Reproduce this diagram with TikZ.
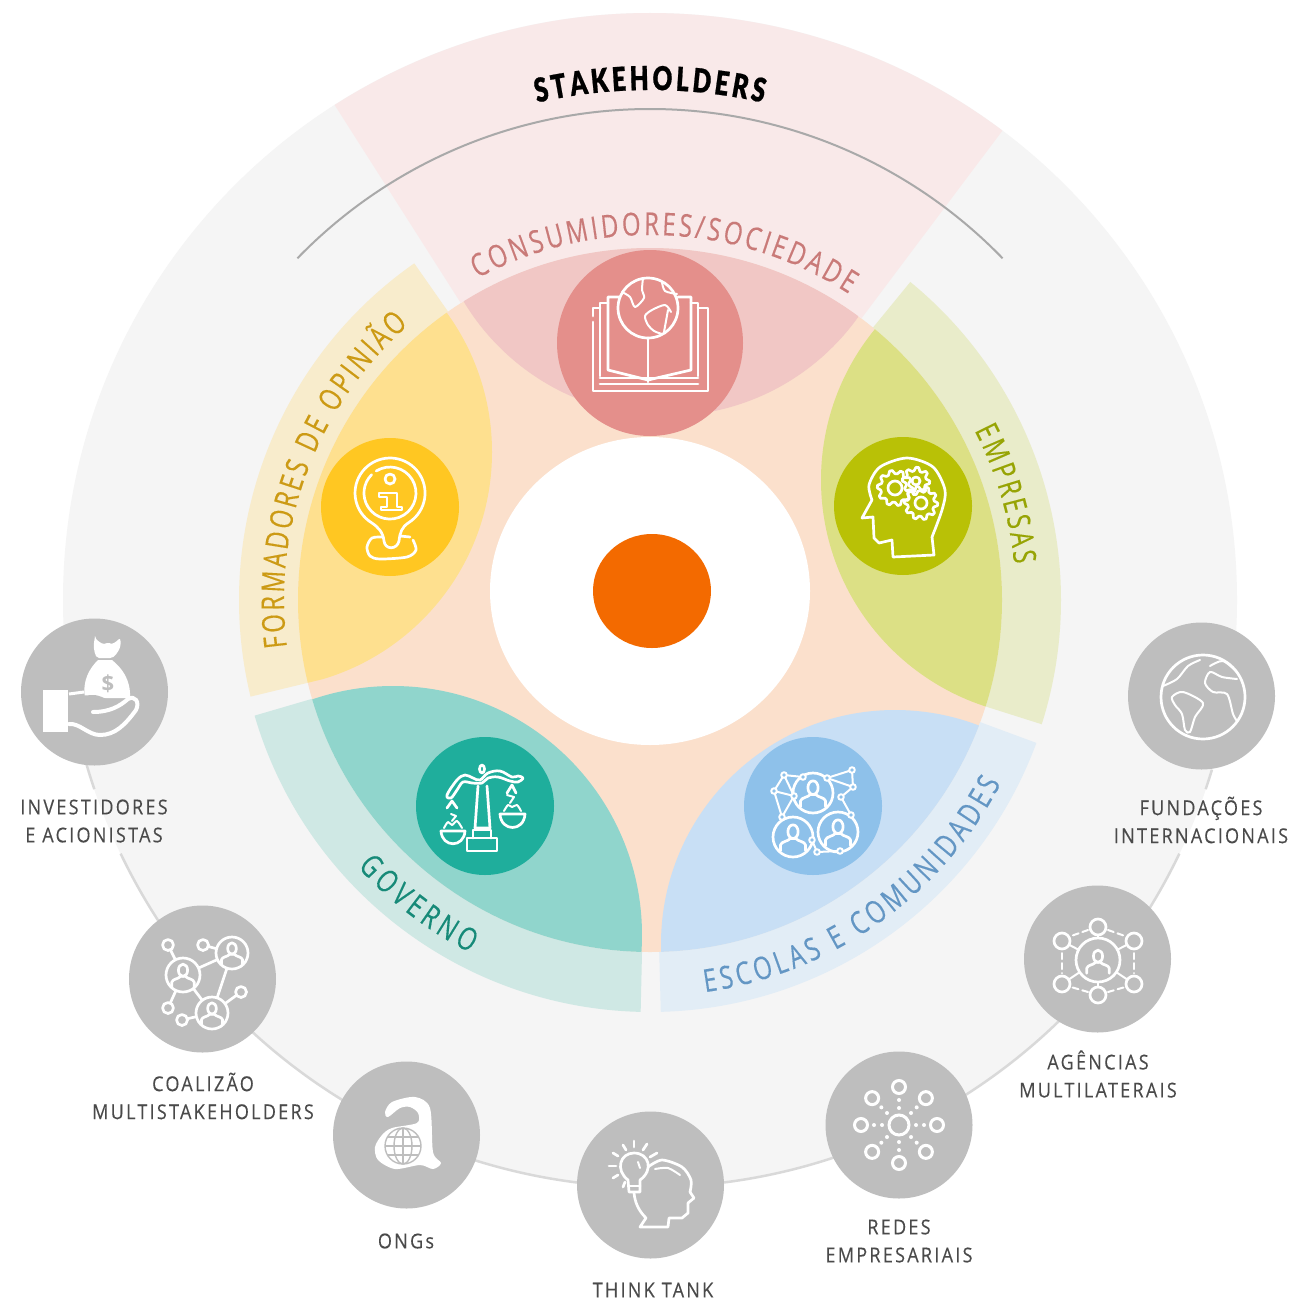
\documentclass[tikz,border=0pt]{standalone}
\usepackage{fontspec}
\usetikzlibrary{decorations.text,calc,shapes.geometric}
\setmainfont{Open Sans}
\newfontfamily\labfont[LetterSpace=11,FakeStretch=.88,FakeBold=.25]{Open Sans}
\newfontfamily\arcfont[FakeStretch=.76,FakeBold=.3]{Open Sans}
\newfontfamily\stkfont[FakeStretch=.74,FakeBold=.6]{Lato Black}
\definecolor{ringbg}{HTML}{F5F5F5}
\definecolor{ringln}{HTML}{D9D9D9}
\definecolor{peach}{HTML}{FBE0CC}
\definecolor{pinkL}{HTML}{F9E9E9}\definecolor{pinkM}{HTML}{F1C7C5}\definecolor{pinkD}{HTML}{E48F8B}\definecolor{pinkT}{HTML}{C97A78}
\definecolor{yelL}{HTML}{F8ECCC}\definecolor{yelM}{HTML}{FEE08F}\definecolor{yelD}{HTML}{FFC722}\definecolor{yelT}{HTML}{CC9A14}
\definecolor{grnL}{HTML}{E9ECCA}\definecolor{grnM}{HTML}{DCE085}\definecolor{grnD}{HTML}{B9C106}\definecolor{grnT}{HTML}{97A404}
\definecolor{teaL}{HTML}{CFE8E4}\definecolor{teaM}{HTML}{90D5CC}\definecolor{teaD}{HTML}{1FAE9C}\definecolor{teaT}{HTML}{168A78}
\definecolor{bluL}{HTML}{E2EDF6}\definecolor{bluM}{HTML}{C8DFF5}\definecolor{bluD}{HTML}{8EC1EA}\definecolor{bluT}{HTML}{6396C4}
\definecolor{grayD}{HTML}{BEBEBE}\definecolor{labT}{HTML}{4A4A4A}
\definecolor{hubO}{HTML}{F36A00}\definecolor{topln}{HTML}{A9A9A9}
% annular sector: #1 colour, #2 #3 angles, #4 inner, #5 outer radius
\newcommand\annsec[5]{\fill[#1] ([shift={(C)}]#2:#4pt) arc[start angle=#2,end angle=#3,radius=#4pt]
  -- ([shift={(C)}]#3:#5pt) arc[start angle=#3,end angle=#2,radius=#5pt] -- cycle;}
% lens: #1 colour, #2 #3 angles, #4 petal cx, #5 petal cy, #6 petal radius
\newcommand\lens[6]{\begin{scope}
  \clip (C) circle[radius=352pt];
  \clip (C) -- ([shift={(C)}]#2:800pt) arc[start angle=#2,end angle=#3,radius=800pt] -- cycle;
  \fill[#1] (#4,-#5) circle[radius=#6pt];\end{scope}}
\newcommand\arctext[6]{\path[decorate,decoration={text along path,text align={fit to path},
   text={|#4\fontsize{31.5}{32}\selectfont\color{#5}|#6}}]
   ([shift={(C)}]#2:#1pt) arc[start angle=#2,end angle=#3,radius=#1pt];}
\newcommand\garc[2]{\draw[ringln,line width=2.5pt] ([shift={(C)}]#1:587pt) arc[start angle=#1,end angle=#2,radius=587pt];}
\newcommand\person[3]{%
  \draw[ic] (#1,{#2-.28*#3}) ellipse[x radius={.27*#3 pt},y radius={.36*#3 pt}];
  \draw[ic] ({#1-.66*#3},{#2+.72*#3}) -- ({#1-.66*#3},{#2+.42*#3}) .. controls ({#1-.6*#3},{#2+.22*#3}) and ({#1-.3*#3},{#2+.25*#3}) .. ({#1-.14*#3},{#2+.08*#3})
     -- ({#1+.14*#3},{#2+.08*#3}) .. controls ({#1+.3*#3},{#2+.25*#3}) and ({#1+.6*#3},{#2+.22*#3}) .. ({#1+.66*#3},{#2+.42*#3}) -- ({#1+.66*#3},{#2+.72*#3});}
\newcommand\gearicon[5]{\begin{scope}[shift={(#1,#2)}]
  \pgfmathtruncatemacro\nsamp{#4*4+1}
  \draw[ic] plot[domain=0:360,samples=\nsamp] ({(#3+1.7*(sin(#4*\x+45)>0?1:-1))*cos(\x)},{(#3+1.7*(sin(#4*\x+45)>0?1:-1))*sin(\x)}) -- cycle;
  \draw[ic] (0,0) circle[radius=#5pt];\end{scope}}
\tikzset{
  disc/.style={circle,inner sep=0pt,draw=none},
  big/.style={disc,minimum size=186pt},
  mid/.style={disc,minimum size=138pt},
  gry/.style={disc,minimum size=147pt,fill=grayD},
  ic/.style={draw=white,line width=2.7pt,line cap=round,line join=round},
  ict/.style={draw=white,line width=2pt,line cap=round,line join=round},
  lab/.style={align=center,text=labT,font=\labfont\fontsize{20.5}{28}\selectfont,inner sep=0pt},
}
\begin{document}
\begin{tikzpicture}[x=1pt,y=1pt]
\useasboundingbox (0,-1300) rectangle (1291,0);
\fill[white] (0,-1300) rectangle (1291,0);
\coordinate (C) at (650,-600);
% outer ring
\fill[ringbg] (C) circle[radius=587pt];
\garc{196.3}{198.8}\garc{205.6}{334.4}\garc{341.2}{343.2}
% peach disc
\fill[peach] (C) circle[radius=352pt];
% sectors
\annsec{pinkL}{53.1}{122.5}{352}{587}
\annsec{yelL}{125}{193.6}{352}{411}
\annsec{teaL}{196.3}{268.7}{352}{412}
\annsec{bluL}{271.5}{339.7}{352}{412}
\annsec{grnL}{342.4}{410.7}{352}{411}
\lens{pinkM}{53.1}{122.5}{666}{180}{236}
\lens{yelM}{125}{193.6}{255}{452}{237}
\lens{teaM}{196.3}{268.7}{393}{935}{249}
\lens{bluM}{271.5}{339.7}{895}{944}{234}
\lens{grnM}{342.4}{410.7}{1059}{480}{238}
% top arc
\draw[topln,line width=2pt] ([shift={(C)}]135.9:491pt) arc[start angle=135.9,end angle=44.1,radius=491pt];
% curved labels
\arctext{365}{118.2}{57}{\arcfont}{pinkT}{CONSUMIDORES/SOCIEDADE}
\arctext{366}{187.4}{131.3}{\arcfont}{yelT}{FORMADORES DE OPINIÃO}
\arctext{366}{27.6}{5.6}{\arcfont}{grnT}{EMPRESAS}
\arctext{396}{222.4}{243}{\arcfont}{teaT}{GOVERNO}
\arctext{396}{278}{332.4}{\arcfont}{bluT}{ESCOLAS E COMUNIDADES}
\path[decorate,decoration={text along path,text align={fit to path},text={|\stkfont\fontsize{33}{33}\selectfont\color{black}|STAKEHOLDERS}}]
  ([shift={(C)}]102.8:510pt) arc[start angle=102.8,end angle=77.2,radius=510pt];
% hub
\fill[white] (650,-591) ellipse[x radius=160pt,y radius=154pt];
\node[ellipse,inner sep=0pt,fill=hubO,minimum width=118pt,minimum height=114pt] (hub) at (652,-591) {};
% coloured discs
\node[big,fill=pinkD] (dPink) at (650,-343) {};
\node[mid,fill=yelD] (dYel) at (390,-507) {};
\node[mid,fill=grnD] (dGrn) at (903,-506) {};
\node[mid,fill=teaD] (dTea) at (485,-806) {};
\node[mid,fill=bluD] (dBlu) at (813,-806) {};
% grey discs
\node[gry] (g1) at (94.5,-692) {};
\node[gry] (g2) at (202.5,-979) {};
\node[gry] (g3) at (406.5,-1135) {};
\node[gry] (g4) at (650.5,-1185) {};
\node[gry] (g5) at (899,-1125) {};
\node[gry] (g6) at (1097.5,-959) {};
\node[gry] (g7) at (1201.5,-696) {};
% labels
\node[lab] (l1) at (94,-821) {INVESTIDORES\\E ACIONISTAS};
\node[lab] (l2) at (203,-1096) {COALIZÃO\\MULTISTAKEHOLDERS};
\node[lab] (l3) at (406,-1241) {ONGs};
\node[lab] (l4) at (653,-1290) {THINK TANK};
\node[lab] (l5) at (899,-1241) {REDES\\EMPRESARIAIS};
\node[lab] (l6) at (1098,-1074) {AGÊNCIAS\\MULTILATERAIS};
\node[lab] (l7) at (1201,-820) {FUNDAÇÕES\\INTERNACIONAIS};
% ===== icons, in reference pixel coordinates =====
\begin{scope}[y=-1pt]
% --- book and globe
\draw[ic] (648,308) circle[radius=30pt];
\draw[ic] (648,338) -- (648,382);
\draw[ic] (619,297) -- (608,297) -- (608,370) -- (648,380) -- (691,370) -- (691,297) -- (678,297);
\draw[ic] (608,303) -- (600,303) -- (600,376);
\draw[ic] (691,303) -- (698,303) -- (698,376);
\draw[ic] (600,308) -- (593,308) -- (593,316);
\draw[ic] (593,322) -- (593,391) -- (708,391) -- (708,308) -- (698,308);
\draw[ic] (600,378) -- (698,378);
\draw[ic] (600,384) -- (698,384);
\draw[ict] plot[smooth] coordinates {(643,278) (642,290) (644,298) (635,307) (630,297) (622,292)};
\draw[ict] plot[smooth] coordinates {(662,282) (665,291) (677,294)};
\draw[ict] plot[smooth] coordinates {(671,312) (665,305) (652,310) (645,316) (648,325) (654,331) (662,334)};
\draw[ict] (668,310) -- (664,332);
% --- info pin
\draw[ic] (371.5,522.7) arc[start angle=238,end angle=-58,radius=35pt] .. controls (402,527) and (400,532) .. (399,541) .. controls (397,550) and (385,550) .. (384,541) .. controls (383,532) and (378,527) .. (371.5,522.7);
\draw[ic] (376.2,471) arc[start angle=122,end angle=-225,radius=26pt];
\draw[ic] (390,479) circle[radius=5pt];
\draw[ic] (379,493) -- (397,493) -- (397,507) -- (402,507) -- (402,510) -- (381,510) -- (381,507) -- (387,507) -- (387,497) -- (379,497) -- cycle;
\draw[ic] plot[smooth] coordinates {(383,537) (372,538) (367,547) (370,556) (380,559) (407,557) (416,550) (413,540)};
\draw[ic] (400,536) -- (410,537);
% --- head with gears
\draw[ic] plot[smooth] coordinates {(872,500) (869,485) (880,467) (907,458) (933,467) (945,490) (942,510) (932,537)};
\draw[ic] (932,537) -- (934,555) -- (893,557) -- (892,540) -- (879,543) -- (874,538) -- (873,517) -- (862,518) -- (872,500);
\gearicon{895}{488}{16}{10}{7}
\gearicon{916}{481}{12}{8}{4}
\gearicon{921}{503}{15}{10}{6}
% --- scales
\draw[ic] plot[smooth cycle,tension=.6] coordinates {(447,795) (457,780) (465,775) (473,778) (480,780) (488,773) (500,771) (512,777) (518,776) (523,778) (518,782) (510,781) (498,777) (488,778) (482,783) (472,783) (463,782) (457,790) (451,798)};
\draw[ic] (482,769) ellipse[x radius=2.5pt,y radius=4pt];
\draw[ic] (478,786) -- (475,828) -- (490,828) -- (487,786);
\draw[ic] (473,838) -- (473,830) -- (491,830) -- (491,838);
\draw[ic] (467,838) rectangle (497,851);
\draw[ic] (447,808) -- (452,801) -- (457,808);
\draw[ic] (507,793) -- (512,785) -- (516,793);
\draw[ic] (441,831) -- (465,831) .. controls (464,848) and (442,848) .. (441,831) -- cycle;
\draw[ic] (500,814) -- (525,814) .. controls (524,832) and (501,832) .. (500,814) -- cycle;
\draw[ict] plot[smooth] coordinates {(444,828) (448,822) (452,825) (457,821) (462,828)};
\draw[ict] (451,814) -- (456,816) -- (452,821);
\draw[ict] plot[smooth] coordinates {(504,811) (508,805) (512,807) (517,805) (521,811)};
\draw[ict] (507,795) -- (514,797) -- (510,803);
% --- network of people
\foreach \p/\q in {784/775,803/777,827/778,852/770,853/787,841/797,851/815,774/791,794/796,782/817,812/840,817/852,840/851}
  \coordinate (n\p) at (\p,\q);
\draw[ict] (n784)--(n803) (n827)--(n852)--(n853)--(n827) (n784)--(n774)--(n794)--(n784) (n774)--(n782)--(n794) (n853)--(n841)--(n851) (n812)--(n817)--(n840);
\foreach \a/\b in {813/793,793/837,838/832}{
  \draw[ic] (\a,\b) circle[radius=20pt];
  \person{\a}{\b}{19}
}
\foreach \p in {784,803,827,852,853,841,851,774,794,782,812,817,840}
  \draw[ict,fill=bluD] (n\p) circle[radius=2.8pt];
% --- money bag and hand
\fill[white] (43,690) rectangle (68,732);
\fill[white,rounded corners=2pt] (95,638) .. controls (100,643) and (104,645) .. (108,642) .. controls (112,645) and (116,642) .. (120,638) .. controls (122,648) and (116,655) .. (112,658) -- (97,658) .. controls (94,652) and (93,645) .. (95,638) -- cycle;
\fill[white] (98,660) -- (112,660) .. controls (122,668) and (131,680) .. (130,698) -- (85,698) .. controls (82,680) and (90,668) .. (98,660) -- cycle;
\fill[grayD] (69,696) -- (95,695) .. controls (105,697) and (112,702) .. (118,709) -- (93,714) -- (69,722) -- cycle;
\draw[white,line width=3pt,line join=round] (69,694) -- (84,692);
\draw[white,line width=4pt,line cap=round,line join=round] (69,724) .. controls (80,723) and (88,735) .. (100,735) .. controls (115,735) and (125,725) .. (136,710) .. controls (140,702) and (135,695) .. (128,699) .. controls (120,706) and (110,712) .. (93,712);
\node[font=\bfseries\fontsize{22}{22}\selectfont,text=grayD,inner sep=0pt] (dollar) at (108,684) {\$};
% --- coalition
\foreach \p/\q/\n in {168/945/a,203/945/b,168/1008/c,182/1020/d,241/992/e}
  \coordinate (c\n) at (\p,\q);
\draw[ic] (ca)--(183,975) (cb)--(232,953) (183,975)--(232,953) (183,975)--(212,1013) (232,953)--(212,1013) (cc)--(183,975) (cd)--(212,1013) (ce)--(212,1013);
\foreach \a/\b/\s in {183/975/17,232/953/16,212/1013/16}{
  \draw[ic,fill=grayD] (\a,\b) circle[radius=\s pt];
  \person{\a}{\b}{\s}
}
\foreach \n in {a,b,c,d,e} \draw[ic,fill=grayD] (c\n) circle[radius=5.5pt];
% --- ONG letter with globe
\fill[white] plot[smooth cycle] coordinates {(385,1112) (392,1102) (415,1097) (430,1108) (433,1152) (441,1163) (433,1169) (420,1165) (395,1169) (378,1160) (375,1147) (382,1135) (392,1128) (417,1123) (418,1113) (410,1107) (400,1108) (388,1117)};
\begin{scope}[grayD,line width=1.4pt]
\draw (403,1146) circle[radius=18pt];
\draw (403,1146) ellipse[x radius=9pt,y radius=18pt];
\draw (403,1128) -- (403,1164) (385,1146) -- (421,1146) (388,1137) -- (418,1137) (388,1155) -- (418,1155);
\end{scope}
% --- think tank
\draw[ic] (628,1180) .. controls (615,1170) and (620,1153) .. (634,1153) .. controls (649,1153) and (654,1170) .. (640,1180) -- (640,1192) -- (629,1192) -- cycle;
\draw[ic] (629,1186) -- (640,1186);
\draw[ict] (638,1162) -- (640,1168);
\foreach \xa/\ya/\xb/\yb in {634/1141/634/1147,623/1145/626/1150,647/1144/643/1150,613/1153/618/1156,657/1153/650/1157,609/1166/616/1166,613/1178/618/1175,623/1187/625/1182}
  \draw[ic] (\xa,\ya) -- (\xb,\yb);
\draw[ic] plot[smooth] coordinates {(648,1167) (662,1160) (682,1167) (691,1180) (690,1192)};
\draw[ic] (690,1192) -- (694,1198) -- (688,1203) -- (688,1213) -- (682,1218) -- (669,1218) -- (668,1227) -- (640,1227) -- (646,1218) .. controls (638,1210) and (635,1202) .. (634,1193);
\draw[ict] plot[smooth] coordinates {(655,1169) (668,1168) (680,1175)};
% --- business networks
\draw[white,line width=3pt] (899,1125) circle[radius=10pt];
\foreach \a in {0,45,...,315}{
  \draw[white,line width=3pt] ($(899,1125)+(\a:38pt)$) circle[radius=6.5pt];
  \fill[white] ($(899,1125)+(\a:17pt)$) circle[radius=2pt];
  \fill[white] ($(899,1125)+(\a:25pt)$) circle[radius=2pt];
}
% --- agencies
\foreach \a/\b/\n in {1098/927/a,1134/941/b,1134/984/c,1098/995/d,1062/984/e,1062/941/f}{
  \coordinate (m\n) at (\a,\b);
  \draw[ict] (1098,960) -- (m\n);
}
\fill[grayD] (1098,960) circle[radius=21pt];
\draw[ic] (1098,960) circle[radius=22pt];
\person{1098}{961}{17}
\foreach \n in {a,b,c,d,e,f}\draw[ic,fill=grayD] (m\n) circle[radius=8pt];
\draw[ict,dash pattern=on 6pt off 4pt] (1108,930) -- (1125,936);
\draw[ict,dash pattern=on 6pt off 4pt] (1088,930) -- (1071,936);
\draw[ict,dash pattern=on 6pt off 4pt] (1108,992) -- (1125,987);
\draw[ict,dash pattern=on 6pt off 4pt] (1088,992) -- (1071,987);
\draw[ict,dash pattern=on 6pt off 4pt] (1062,953) -- (1062,973);
\draw[ict,dash pattern=on 6pt off 4pt] (1134,953) -- (1134,973);
% --- world globe
\draw[ic] (1203,697) circle[radius=42pt];
\draw[ict] plot[smooth] coordinates {(1163,686) (1177,679) (1188,666) (1200,660)};
\draw[ict] plot[smooth cycle] coordinates {(1172,697) (1183,692) (1203,703) (1195,717) (1190,732) (1185,730) (1182,714) (1175,705)};
\draw[ict] plot[smooth] coordinates {(1237,679) (1222,677) (1210,672) (1205,683) (1213,692) (1227,694) (1233,714) (1237,721)};
\draw[ict] plot[smooth] coordinates {(1210,666) (1223,661) (1237,672)};
\end{scope}
\end{tikzpicture}
\end{document}
